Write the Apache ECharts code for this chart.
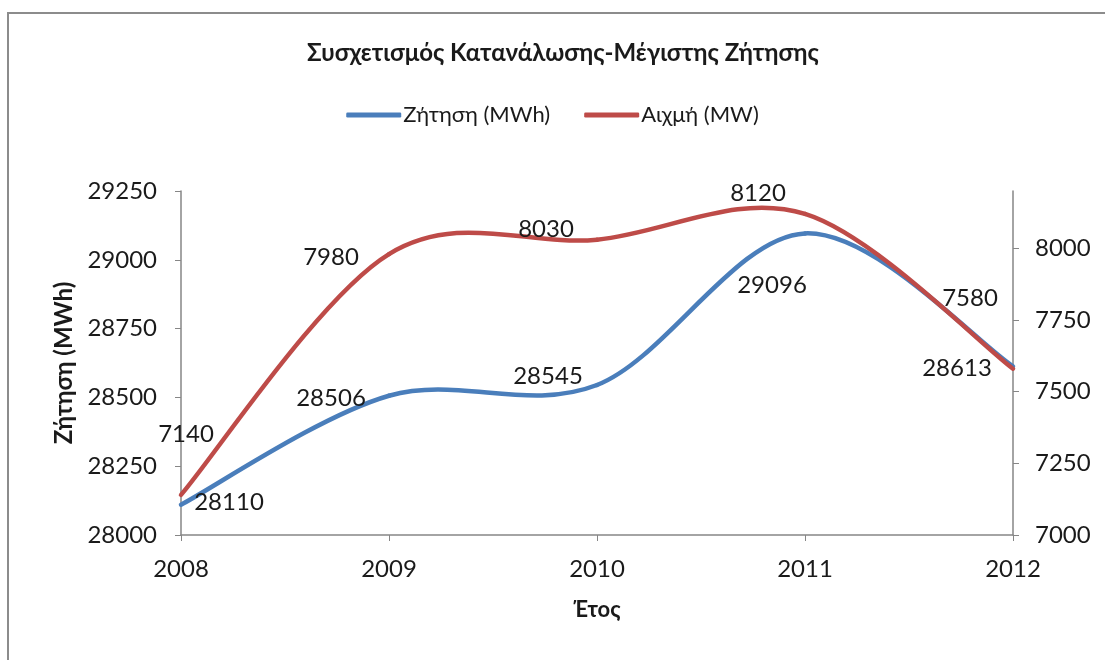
<!DOCTYPE html>
<html><head><meta charset="utf-8">
<script src="https://cdn.jsdelivr.net/npm/echarts@6/dist/echarts.min.js"></script>
<style>html,body{margin:0;padding:0;background:#fff}#c{width:1105px;height:660px}</style>
</head><body><div id="c"></div>
<script>
const years = ['2008','2009','2010','2011','2012'];
const demand = [28110, 28506, 28545, 29096, 28613];
const peak = [7140, 7980, 8030, 8120, 7580];
const leftTicks = [28000, 28250, 28500, 28750, 29000, 29250];
const rightTicks = [7000, 7250, 7500, 7750, 8000];
const demandLabelOffsets = [[48,-2],[-58,3],[-49,-9],[-33,52],[-56,2]];
const peakLabelOffsets = [[5,-61],[-58,3],[-51,-10],[-47,-21],[-43,-70]];
const FONT = 'Lato';
const TXT = '#1a1a1a';
const AX = '#868686';
const BLUE = '#4A7EBB';
const RED = '#BE4B48';
function pts(vals, offs){
  return vals.map((v,i)=>({value:v,label:{offset:offs[i]}}));
}
// Excel-style smoothed curve: Catmull-Rom segments drawn through the axis scales
function curveSeries(vals, axisIdx, color){
  return {
    type:'custom', yAxisIndex:axisIdx, silent:true, z:3,
    data: vals.map((v,i)=>[i,v]),
    renderItem:function(params, api){
      const i = params.dataIndex;
      if (i >= vals.length-1) return null;
      const P = j => { const c = Math.max(0,Math.min(vals.length-1,j)); return api.coord([c, vals[c]]); };
      const p0 = P(i-1), p1 = P(i), p2 = P(i+1), p3 = P(i+2);
      const k = 1/6;
      return {type:'bezierCurve',
        shape:{x1:p1[0],y1:p1[1],x2:p2[0],y2:p2[1],
          cpx1:p1[0]+(p2[0]-p0[0])*k, cpy1:p1[1]+(p2[1]-p0[1])*k,
          cpx2:p2[0]-(p3[0]-p1[0])*k, cpy2:p2[1]-(p3[1]-p1[1])*k},
        style:{stroke:color,lineWidth:4.5,fill:null,lineCap:'round'}};
    }
  };
}
const chart = echarts.init(document.getElementById('c'), null, {renderer:'canvas'});
chart.setOption({
  backgroundColor:'#fff',
  animation:false,
  textStyle:{fontFamily:FONT,color:TXT},
  graphic:[{type:'rect',shape:{x:8,y:13,width:1200,height:700},style:{fill:'none',stroke:'#8c8c8c',lineWidth:2},silent:true}],
  title:{text:'Συσχετισμός Κατανάλωσης-Μέγιστης Ζήτησης',left:302,top:36,
    textStyle:{fontFamily:FONT,fontSize:24,fontWeight:'bold',color:TXT}},
  legend:{top:99,left:'center',itemWidth:55,itemHeight:5,itemGap:34,icon:'roundRect',
    textStyle:{fontFamily:FONT,fontSize:22,color:TXT,padding:[0,0,0,-3]},
    data:['Ζήτηση (MWh)','Αιχμή (MW)']},
  grid:{left:181,right:92,top:191,bottom:125},
  xAxis:{type:'category',data:years,boundaryGap:false,
    name:'Έτος',nameLocation:'middle',nameGap:64,
    nameTextStyle:{fontFamily:FONT,fontSize:22,fontWeight:'bold',color:TXT},
    axisLine:{lineStyle:{color:AX,width:1.5}},
    axisTick:{show:true,length:6,lineStyle:{color:AX}},
    axisLabel:{fontFamily:FONT,fontSize:24,color:TXT,margin:22},
    splitLine:{show:false}},
  yAxis:[
    {type:'value',min:leftTicks[0],max:leftTicks[leftTicks.length-1],interval:250,
     name:'Ζήτηση (MWh)',nameLocation:'middle',nameGap:104,nameRotate:90,
     nameTextStyle:{fontFamily:FONT,fontSize:24,fontWeight:'bold',color:TXT},
     axisLine:{show:true,lineStyle:{color:AX,width:1.5}},
     axisTick:{show:true,length:6,lineStyle:{color:AX}},
     axisLabel:{fontFamily:FONT,fontSize:24,color:TXT,margin:24,formatter:v=>String(v)},
     splitLine:{show:false}},
    {type:'value',min:rightTicks[0],max:8200,interval:250,position:'right',
     axisLine:{show:true,lineStyle:{color:AX,width:1.5}},
     axisTick:{show:true,length:6,lineStyle:{color:AX}},
     axisLabel:{fontFamily:FONT,fontSize:24,color:TXT,margin:22,showMaxLabel:false,
       formatter:v=>rightTicks.includes(v)?String(v):''},
     splitLine:{show:false}}
  ],
  series:[
    {name:'Ζήτηση (MWh)',type:'line',yAxisIndex:0,data:pts(demand,demandLabelOffsets),
     showSymbol:true,symbol:'circle',symbolSize:0.5,itemStyle:{color:BLUE},
     lineStyle:{color:BLUE,width:0,opacity:0},z:4,
     label:{show:true,position:'inside',fontFamily:FONT,fontSize:24,color:TXT}},
    {name:'Αιχμή (MW)',type:'line',yAxisIndex:1,data:pts(peak,peakLabelOffsets),
     showSymbol:true,symbol:'circle',symbolSize:0.5,itemStyle:{color:RED},
     lineStyle:{color:RED,width:0,opacity:0},z:4,
     label:{show:true,position:'inside',fontFamily:FONT,fontSize:24,color:TXT}},
    curveSeries(demand,0,BLUE),
    curveSeries(peak,1,RED)
  ]
});
</script></body></html>
